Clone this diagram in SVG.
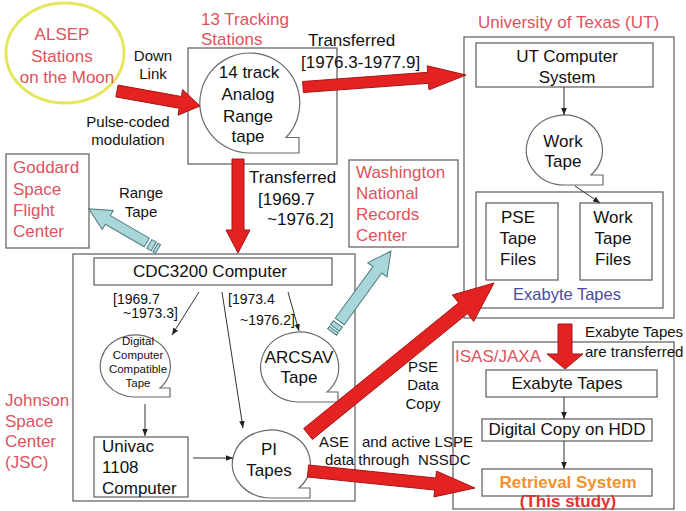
<svg xmlns="http://www.w3.org/2000/svg" width="686" height="511" viewBox="0 0 686 511">
<defs>
<marker id="ah" viewBox="0 0 10 10" refX="10" refY="5" markerWidth="7" markerHeight="7" markerUnits="userSpaceOnUse" orient="auto"><path d="M0,1 L10,5 L0,9 Z" fill="#222"/></marker>
<style>
text{font-family:"Liberation Sans",Arial,sans-serif;fill:#111;}
.t17{font-size:17px;}
.t15{font-size:15px;}
.t14{font-size:14px;}
.sm{font-size:11.5px;}
.red{fill:#e0525c;}
.c{text-anchor:middle;}
.frame{fill:none;stroke:#5a5a5a;stroke-width:1.2;}
.box{fill:#fff;stroke:#5a5a5a;stroke-width:1.2;}
.tape{fill:#fff;stroke:#6a6a6a;stroke-width:1.2;}
.bigred{fill:#e52222;stroke:#a81414;stroke-width:1;}
.blue{fill:#a9d7d9;stroke:#4f7d80;stroke-width:1;}
.ln{stroke:#333;stroke-width:1;fill:none;marker-end:url(#ah);}
</style>
</defs>
<rect width="686" height="511" fill="#fff"/>

<g id="alsep">
<ellipse cx="65" cy="53" rx="59" ry="50" fill="#fff" stroke="#e6e65c" stroke-width="3"/>
<text class="t17 red c" x="62" y="40">ALSEP</text>
<text class="t17 red c" x="62" y="62">Stations</text>
<text class="t17 red c" x="67" y="83">on the Moon</text>
</g>

<g id="tracking">
<text class="t17 red" x="201" y="25">13 Tracking</text>
<text class="t17 red" x="201" y="45">Stations</text>
<rect class="frame" x="188" y="48" width="149" height="116"/>
<path class="tape" d="M250,153 A50,50 0 1 1 286,137.5 L299,137.5 L299,153 Z"/>
<text class="t17 c" x="249" y="78">14 track</text>
<text class="t17 c" x="248" y="100">Analog</text>
<text class="t17 c" x="248" y="122">Range</text>
<text class="t17 c" x="248" y="142">tape</text>
</g>

<g id="ut">
<text class="t17 red" x="478" y="28">University of Texas (UT)</text>
<rect class="frame" x="464" y="37" width="210" height="281"/>
<rect class="box" x="476" y="43" width="177" height="44"/>
<text class="t17 c" x="567" y="62">UT Computer</text>
<text class="t17 c" x="567" y="83">System</text>
<path class="tape" d="M564,185 A38,35 0 1 1 591,175 L603,175 L603,185 Z"/>
<text class="t17 c" x="563" y="147">Work</text>
<text class="t17 c" x="563" y="167">Tape</text>
<rect class="frame" x="476" y="192" width="187" height="116"/>
<rect class="box" x="486" y="203" width="72" height="77"/>
<text class="t17 c" x="518" y="223">PSE</text>
<text class="t17 c" x="518" y="244">Tape</text>
<text class="t17 c" x="518" y="265">Files</text>
<rect class="box" x="580" y="203" width="72" height="77"/>
<text class="t17 c" x="613" y="223">Work</text>
<text class="t17 c" x="613" y="244">Tape</text>
<text class="t17 c" x="613" y="265">Files</text>
<text class="c" x="567" y="300" style="font-size:16.5px;fill:#4a4aa0">Exabyte Tapes</text>
</g>

<g id="goddard">
<rect class="box" x="6" y="154" width="83" height="94"/>
<text class="t17 red" x="13" y="173">Goddard</text>
<text class="t17 red" x="13" y="195">Space</text>
<text class="t17 red" x="13" y="216">Flight</text>
<text class="t17 red" x="13" y="237">Center</text>
</g>

<g id="washington">
<rect class="box" x="349" y="160" width="109" height="87"/>
<text class="t17 red" x="356" y="178">Washington</text>
<text class="t17 red" x="356" y="199">National</text>
<text class="t17 red" x="356" y="220">Records</text>
<text class="t17 red" x="356" y="241">Center</text>
</g>

<g id="jsc">
<text class="t17 red" x="5" y="406">Johnson</text>
<text class="t17 red" x="5" y="427">Space</text>
<text class="t17 red" x="5" y="447">Center</text>
<text class="t17 red" x="5" y="468">(JSC)</text>
<rect class="frame" x="73" y="254" width="282" height="247"/>
</g>

<g id="cdc3200">
<rect class="box" x="94" y="258" width="238" height="27"/>
<text class="t17 c" x="210" y="277">CDC3200 Computer</text>
</g>

<g id="dcct">
<path class="tape" d="M135,397 A35,31 0 1 1 160,388 L170,388 L170,397 Z"/>
<text class="sm c" x="138" y="345">Digital</text>
<text class="sm c" x="138" y="359">Computer</text>
<text class="sm c" x="138" y="373">Compatible</text>
<text class="sm c" x="138" y="387">Tape</text>
</g>

<g id="arcsav">
<path class="tape" d="M299,402 A39,35 0 1 1 327,392 L338,392 L338,402 Z"/>
<text class="t17 c" x="299" y="363">ARCSAV</text>
<text class="t17 c" x="299" y="383">Tape</text>
</g>

<g id="univac">
<rect class="box" x="94" y="437" width="94" height="60"/>
<text class="t17" x="102" y="452">Univac</text>
<text class="t17" x="102" y="473">1108</text>
<text class="t17" x="102" y="494">Computer</text>
</g>

<g id="pitapes">
<path class="tape" d="M271,498 A39,34 0 1 1 299,488 L310,488 L310,498 Z"/>
<text class="t17 c" x="269" y="455">PI</text>
<text class="t17 c" x="269" y="476">Tapes</text>
</g>

<g id="isas">
<rect class="frame" x="453" y="342" width="221" height="167"/>
<text class="t17 red" x="455" y="362">ISAS/JAXA</text>
<rect class="box" x="486" y="370" width="171" height="27"/>
<text class="t17 c" x="567" y="389">Exabyte Tapes</text>
<rect class="box" x="482" y="419" width="170" height="22"/>
<text class="t17 c" x="567" y="435">Digital Copy on HDD</text>
<rect class="box" x="482" y="469" width="170" height="27"/>
<text class="c" x="568" y="488" style="font-size:17px;font-weight:bold;fill:#f0922e">Retrieval System</text>
<text class="c" x="568" y="507" style="font-size:17px;font-weight:bold;fill:#e53030">(This study)</text>
</g>

<g id="connectors">
<polygon class="bigred" points="118.1,85.1 181.4,96.5 182.6,89.6 200,106 178,115.2 179.2,108.3 115.9,96.9"/>
<polygon class="bigred" points="302.6,81.5 427.7,72.3 427.2,65.8 466,75 429,89.8 428.5,83.3 303.4,92.5"/>
<polygon class="bigred" points="232,159 244,159 244,230 250,230 238,253 226,230 232,230"/>
<polygon class="bigred" points="558,324 572,324 572,354 583,354 565,369 547,354 558,354"/>
<polygon class="bigred" points="303.6,428.6 458.6,302.8 452.3,295 494,283 473.7,321.4 467.4,313.6 312.4,439.4"/>
<polygon class="bigred" points="308.6,465 435.8,478 436.5,471.1 475,488 433.9,496.9 434.6,490 307.4,477"/>
<g transform="translate(158,249) rotate(-149.9)">
<rect class="blue" x="0" y="-5" width="3" height="10"/>
<rect class="blue" x="5" y="-5" width="5" height="10"/>
<polygon class="blue" points="13,-5 58,-5 58,-11 80,0 58,11 58,5 13,5"/>
</g>
<g transform="translate(332,332) rotate(-53.9)">
<rect class="blue" x="0" y="-5.5" width="3" height="11"/>
<rect class="blue" x="5" y="-5.5" width="5" height="11"/>
<polygon class="blue" points="13,-5.5 77,-5.5 77,-12 100,0 77,12 77,5.5 13,5.5"/>
</g>
<line class="ln" x1="564" y1="87" x2="564" y2="115"/>
<line class="ln" x1="575" y1="186" x2="600" y2="203"/>
<line class="ln" x1="199" y1="292" x2="172" y2="335"/>
<line class="ln" x1="222" y1="292" x2="243" y2="428"/>
<line class="ln" x1="288" y1="292" x2="299" y2="331"/>
<line class="ln" x1="145" y1="404" x2="145" y2="436"/>
<line class="ln" x1="193" y1="458" x2="233" y2="458"/>
<line class="ln" x1="564" y1="397" x2="564" y2="419"/>
<line class="ln" x1="564" y1="441" x2="564" y2="469"/>
</g>

<g id="labels">
<text class="t15 c" x="153" y="61">Down</text>
<text class="t15 c" x="153" y="79">Link</text>
<text class="t15 c" x="128" y="127">Pulse-coded</text>
<text class="t15 c" x="128" y="145">modulation</text>
<text class="t17" x="308" y="46">Transferred</text>
<text class="t17" x="301" y="68">[1976.3-1977.9]</text>
<text class="t17" x="249" y="183">Transferred</text>
<text class="t17" x="258" y="205">[1969.7</text>
<text class="t17" x="267" y="225">~1976.2]</text>
<text class="t15 c" x="141" y="198">Range</text>
<text class="t15 c" x="141" y="217">Tape</text>
<text class="t14" x="113" y="304">[1969.7</text>
<text class="t14" x="123" y="318">~1973.3]</text>
<text class="t14" x="228" y="304">[1973.4</text>
<text class="t14" x="240" y="325">~1976.2]</text>
<text class="t15 c" x="423" y="372">PSE</text>
<text class="t15 c" x="423" y="390">Data</text>
<text class="t15 c" x="423" y="409">Copy</text>
<text class="t15" x="319" y="447">ASE</text>
<text class="t15" x="362" y="447">and active LSPE</text>
<text class="t15" x="325" y="465">data through</text>
<text class="t15" x="418" y="465">NSSDC</text>
<text class="t15" x="585" y="337">Exabyte Tapes</text>
<text class="t15" x="585" y="357">are transferred</text>
</g>
</svg>
